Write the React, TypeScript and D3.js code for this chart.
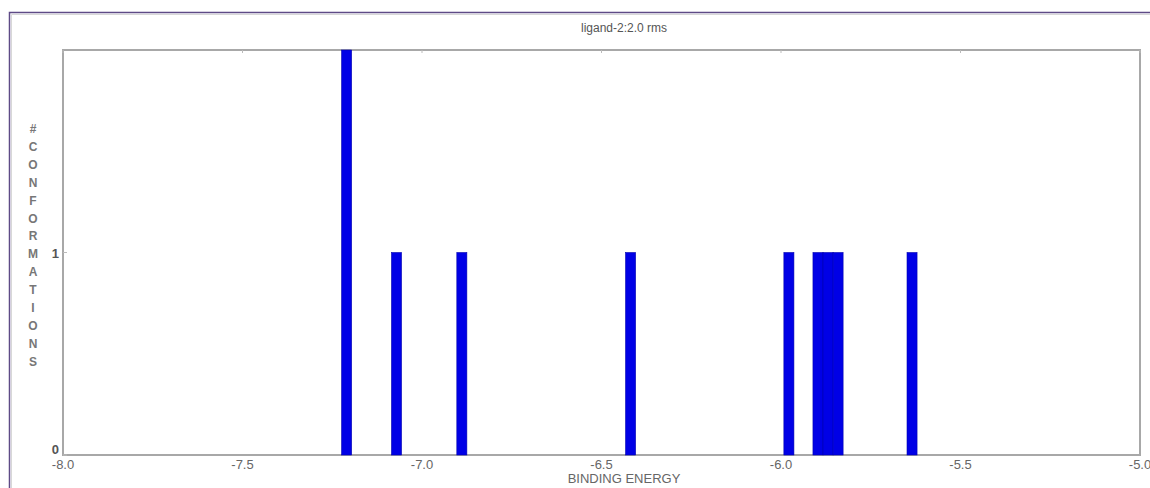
import { useEffect, useRef } from "react";
import * as d3 from "d3";

// binding energies (kcal/mol) of each cluster and the number of conformations
const energies = [-7.21, -7.071, -6.889, -6.419, -5.978, -5.897, -5.869, -5.841, -5.635];
const counts = [2, 1, 1, 1, 1, 1, 1, 1, 1];
const xTicks = [-8.0, -7.5, -7.0, -6.5, -6.0, -5.5, -5.0];
const yTicks = [0, 1];
const yLabel = "#CONFORMATIONS";

export default function App() {
  const ref = useRef<SVGSVGElement>(null);

  useEffect(() => {
    const svg = d3.select(ref.current);
    svg.selectAll("*").remove();

    const W = 1150, H = 488;
    const left = 63, right = 1140, top = 50, bottom = 455;
    const font = "'Liberation Sans', Arial, sans-serif";
    const grey = "#666";

    const x = d3.scaleLinear().domain([-8, -5]).range([left, right]);
    const y = d3.scaleLinear().domain([0, 2]).range([bottom, top]);
    const barW = 0.028;

    svg.append("rect").attr("width", W).attr("height", H).attr("fill", "#fff");

    // outer window frame
    svg.append("path")
      .attr("d", `M9.5,${H} V12.5 H${W}`)
      .attr("fill", "none").attr("stroke", "#5e4a86").attr("stroke-width", 1.5);
    svg.append("path")
      .attr("d", `M11.5,${H} V14.5 H${W}`)
      .attr("fill", "none").attr("stroke", "#d8d8d8").attr("stroke-width", 1);

    // title
    svg.append("text")
      .attr("x", 624).attr("y", 32)
      .attr("text-anchor", "middle")
      .attr("font-family", font).attr("font-size", 12)
      .attr("fill", "#555")
      .text("ligand-2:2.0 rms");

    // plot frame
    svg.append("rect")
      .attr("x", left).attr("y", top)
      .attr("width", right - left).attr("height", bottom - top)
      .attr("fill", "none").attr("stroke", "#a8a8a8").attr("stroke-width", 2);

    // bars
    svg.append("g").selectAll("rect")
      .data(energies)
      .join("rect")
      .attr("x", (d) => x(d - barW / 2))
      .attr("width", (d) => x(d + barW / 2) - x(d - barW / 2))
      .attr("y", (_, i) => y(counts[i]))
      .attr("height", (_, i) => y(0) - y(counts[i]))
      .attr("fill", "#0000e6")
      .attr("stroke", "#0000b0")
      .attr("stroke-width", 0.6);

    // x ticks
    const gx = svg.append("g");
    xTicks.forEach((t) => {
      gx.append("line")
        .attr("x1", x(t)).attr("x2", x(t))
        .attr("y1", top).attr("y2", top + 3)
        .attr("stroke", "#bbb");
      gx.append("text")
        .attr("x", x(t)).attr("y", 469)
        .attr("text-anchor", "middle")
        .attr("font-family", font).attr("font-size", 13)
        .attr("fill", grey)
        .text(t.toFixed(1));
    });

    // y ticks
    const gy = svg.append("g");
    yTicks.forEach((t) => {
      gy.append("line")
        .attr("x1", left).attr("x2", left + 4)
        .attr("y1", y(t)).attr("y2", y(t))
        .attr("stroke", "#bbb");
      gy.append("text")
        .attr("x", 59).attr("y", y(t) + (t === 0 ? -1 : 5))
        .attr("text-anchor", "end")
        .attr("font-family", font).attr("font-size", 13)
        .attr("font-weight", "bold")
        .attr("fill", "#555")
        .text(String(t));
    });

    // axis labels
    svg.append("text")
      .attr("x", 624).attr("y", 483)
      .attr("text-anchor", "middle")
      .attr("font-family", font).attr("font-size", 13)
      .attr("fill", grey)
      .text("BINDING ENERGY");

    const letters = yLabel.split("");
    const step = 17.9;
    svg.append("g").selectAll("text")
      .data(letters)
      .join("text")
      .attr("x", 33)
      .attr("y", (_, i) => 133 + i * step)
      .attr("text-anchor", "middle")
      .attr("font-family", font).attr("font-size", 12)
      .attr("font-weight", "bold")
      .attr("fill", "#777")
      .text((d) => d);
  }, []);

  return (
    <svg
      ref={ref}
      width={1150}
      height={488}
      style={{ position: "absolute", left: 0, top: 0, display: "block" }}
    />
  );
}
